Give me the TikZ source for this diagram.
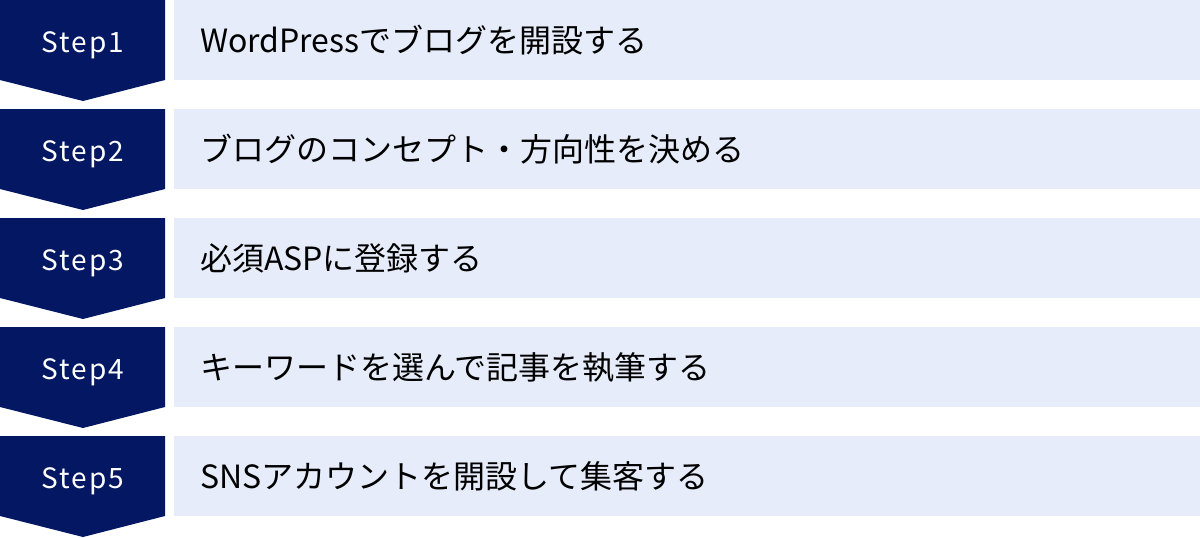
\documentclass[tikz,border=0pt]{standalone}
\usepackage{fontspec}
\setmainfont{Noto Sans CJK JP}
\newfontfamily\stepfont[LetterSpace=7]{Noto Sans CJK JP}
\definecolor{stepnavy}{RGB}{3,23,98}
\definecolor{boxblue}{RGB}{230,236,249}
\tikzset{
  chevron/.style={fill=stepnavy,draw=none},
  steplabel/.style={text=white,font=\stepfont\fontsize{28}{30}\selectfont,inner sep=0pt,anchor=base},
  stepbox/.style={rectangle,fill=boxblue,draw=none,anchor=north west,minimum width=1026pt,minimum height=80pt,inner sep=0pt},
  steptext/.style={anchor=west,font=\fontsize{32}{36}\selectfont,text=black,inner sep=0pt}
}
\begin{document}
\begin{tikzpicture}[x=1pt,y=-1pt]
\useasboundingbox (0,0) rectangle (1200,538);
\fill[chevron] (0,0) -- (165,0) -- (165,80) -- (83,101) -- (0,80) -- cycle;
\node[steplabel] (s1) at (83,52) {Step1};
\node[stepbox] (b1) at (174,0) {};
\node[steptext] (t1) at ([xshift=26pt]b1.west) {WordPressでブログを開設する};
\fill[chevron] (0,109) -- (165,109) -- (165,189) -- (83,210) -- (0,189) -- cycle;
\node[steplabel] (s2) at (83,161) {Step2};
\node[stepbox] (b2) at (174,109) {};
\node[steptext] (t2) at ([xshift=26pt]b2.west) {ブログのコンセプト・方向性を決める};
\fill[chevron] (0,218) -- (165,218) -- (165,298) -- (83,319) -- (0,298) -- cycle;
\node[steplabel] (s3) at (83,270) {Step3};
\node[stepbox] (b3) at (174,218) {};
\node[steptext] (t3) at ([xshift=26pt]b3.west) {必須ASPに登録する};
\fill[chevron] (0,327) -- (165,327) -- (165,407) -- (83,428) -- (0,407) -- cycle;
\node[steplabel] (s4) at (83,379) {Step4};
\node[stepbox] (b4) at (174,327) {};
\node[steptext] (t4) at ([xshift=26pt]b4.west) {キーワードを選んで記事を執筆する};
\fill[chevron] (0,436) -- (165,436) -- (165,516) -- (83,537) -- (0,516) -- cycle;
\node[steplabel] (s5) at (83,488) {Step5};
\node[stepbox] (b5) at (174,436) {};
\node[steptext] (t5) at ([xshift=26pt]b5.west) {SNSアカウントを開設して集客する};
\end{tikzpicture}
\end{document}
